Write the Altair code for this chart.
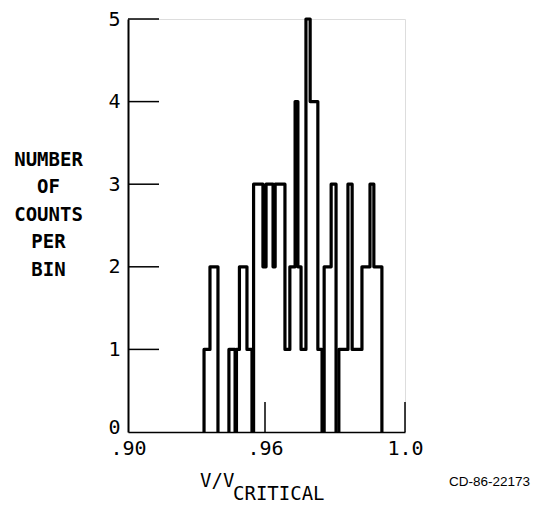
import altair as alt
import pandas as pd

# ---- data (V/Vcritical bins and counts) ----
bin_left = [0.9333, 0.9359, 0.9442, 0.9475, 0.9488, 0.9521, 0.9550, 0.9591, 0.9603,
            0.9623, 0.9629, 0.9657, 0.9671, 0.9686, 0.9694, 0.9703, 0.9717, 0.9729,
            0.9751, 0.9769, 0.9789, 0.9811, 0.9837, 0.9849, 0.9877, 0.9900, 0.9911]
bin_right = [0.9359, 0.9394, 0.9469, 0.9488, 0.9521, 0.9543, 0.9591, 0.9603, 0.9623,
             0.9629, 0.9657, 0.9671, 0.9686, 0.9694, 0.9703, 0.9717, 0.9729, 0.9751,
             0.9763, 0.9789, 0.9803, 0.9837, 0.9849, 0.9877, 0.9900, 0.9911, 0.9934]
counts = [1, 2, 1, 1, 2, 1, 3, 2, 3,
          2, 3, 1, 2, 4, 2, 1, 5, 4,
          1, 2, 3, 1, 3, 1, 2, 3, 2]

x_ticks = [0.90, 0.96, 1.0]
x_inner_ticks = [0.96, 1.0]
y_ticks = [0, 1, 2, 3, 4, 5]
y_inner_ticks = [1, 2, 3, 4, 5]
y_title_lines = ["NUMBER", "OF", "COUNTS", "PER", "BIN"]
x_title_main = "V/V"
x_title_sub = "CRITICAL"
credit = "CD-86-22173"

# ---- build outline vertices (one polyline per run of adjacent bins) ----
rows = []
run = 0
order = 0
prev_right = None
for l, r, c in zip(bin_left, bin_right, counts):
    if prev_right is None or abs(l - prev_right) > 1e-9:
        if prev_right is not None:
            rows.append(dict(x=prev_right, y=0, run=run, order=order)); order += 1
            run += 1
        rows.append(dict(x=l, y=0, run=run, order=order)); order += 1
    rows.append(dict(x=l, y=c, run=run, order=order)); order += 1
    rows.append(dict(x=r, y=c, run=run, order=order)); order += 1
    prev_right = r
rows.append(dict(x=prev_right, y=0, run=run, order=order))
outline = pd.DataFrame(rows)

W, H = 277, 413
FONT = "DejaVu Sans Mono"

xscale = alt.Scale(domain=[0.90, 0.96, 1.0], range=[0, 137, 277])
yscale = alt.Scale(domain=[0, 5])

xaxis = alt.Axis(values=x_ticks, ticks=False, grid=False, domainColor="black",
                 domainWidth=1.5, labelFont=FONT, labelFontSize=20, labelColor="black",
                 labelPadding=6, labelFlush=False, title=None,
                 labelExpr="datum.value >= 1 ? '1.0' : replace(format(datum.value, '.2f'), '0.', '.')")
yaxis = alt.Axis(values=y_ticks, ticks=False, grid=False, domainColor="black",
                 domainWidth=2, labelFont=FONT, labelFontSize=20, labelColor="black",
                 labelPadding=8, format="d",
                 labelOffset={"condition": {"test": "datum.value == 0", "value": -5}, "value": 0},
                 title=y_title_lines, titleAngle=0, titleAlign="center",
                 titleBaseline="middle", titleX=-80, titleY=140,
                 titleFont=FONT, titleFontSize=19, titleFontWeight="bold",
                 titleLineHeight=27.5, titleColor="black")

hist = alt.Chart(outline).mark_line(color="black", strokeWidth=3.2, strokeJoin="round").encode(
    x=alt.X("x:Q", scale=xscale, axis=xaxis),
    y=alt.Y("y:Q", scale=yscale, axis=yaxis),
    detail="run:N",
    order="order:Q",
)

xt = alt.Chart(pd.DataFrame({"v": x_inner_ticks})).mark_rule(color="black", strokeWidth=1.5).encode(
    x=alt.X("v:Q", scale=xscale, axis=xaxis),
    y=alt.value(H), y2=alt.value(H - 30),
)

yt = alt.Chart(pd.DataFrame({"v": y_inner_ticks})).mark_rule(color="black", strokeWidth=1.5).encode(
    y=alt.Y("v:Q", scale=yscale, axis=yaxis),
    x=alt.value(0), x2=alt.value(31),
)

lab = pd.DataFrame({"main": [x_title_main], "sub": [x_title_sub], "credit": [credit]})
t_main = alt.Chart(lab).mark_text(font=FONT, fontSize=19, align="left", baseline="alphabetic",
                                  color="black").encode(
    text="main:N", x=alt.value(72), y=alt.value(468))
t_sub = alt.Chart(lab).mark_text(font=FONT, fontSize=19, align="left", baseline="alphabetic",
                                 color="black").encode(
    text="sub:N", x=alt.value(105), y=alt.value(481))
t_cred = alt.Chart(lab).mark_text(font="Liberation Sans", fontSize=13.5, align="left",
                                  baseline="alphabetic", color="black").encode(
    text="credit:N", x=alt.value(321), y=alt.value(467))

chart = alt.layer(hist, xt, yt, t_main, t_sub, t_cred).properties(
    width=W, height=H,
    autosize=alt.AutoSizeParams(type="none"),
    padding={"left": 120, "top": 11, "right": 133, "bottom": 72},
).configure_view(stroke=None).configure(background="white")

chart.save("out.html", embed_options={"renderer": "svg", "actions": False})
